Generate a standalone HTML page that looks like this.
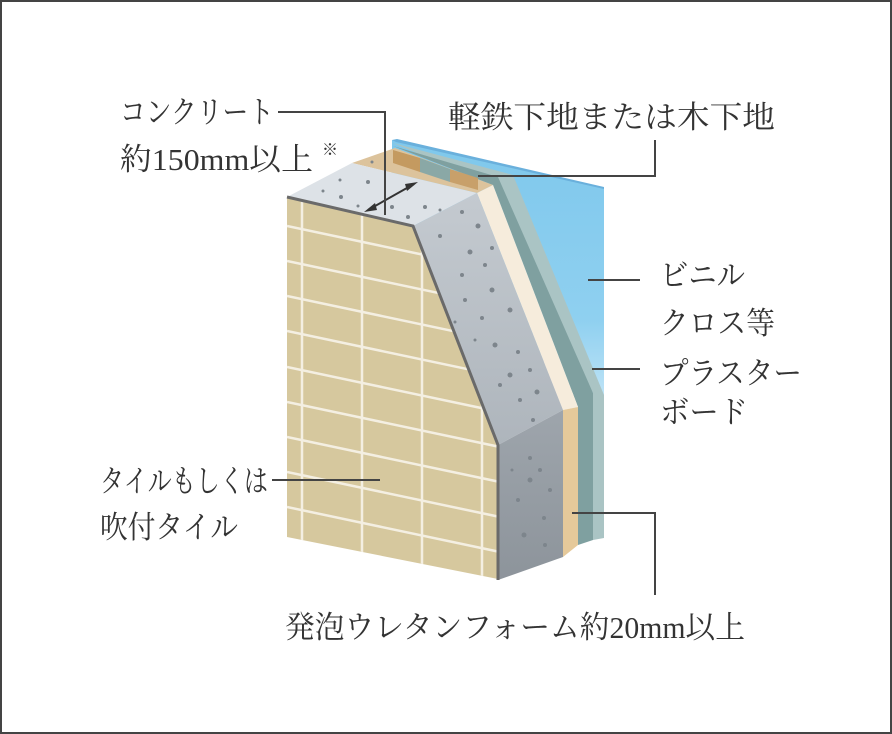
<!DOCTYPE html>
<html><head><meta charset="utf-8"><style>
html,body{margin:0;padding:0;background:#fff}
svg{display:block}
text{font-family:"Liberation Serif","Noto Serif CJK JP","Noto Serif CJK SC",serif;fill:#333;font-size:31px}
</style></head><body>
<svg width="892" height="734" viewBox="0 0 892 734" xmlns="http://www.w3.org/2000/svg">
<defs>
<linearGradient id="blue" x1="0" y1="0" x2="0" y2="1">
<stop offset="0" stop-color="#7fc8ec"/><stop offset="0.45" stop-color="#8fd0f0"/><stop offset="0.75" stop-color="#d8eefa"/><stop offset="1" stop-color="#ffffff"/>
</linearGradient>
<linearGradient id="conc" x1="0" y1="0" x2="0" y2="1">
<stop offset="0" stop-color="#c4cad0"/><stop offset="1" stop-color="#aeb5bc"/>
</linearGradient>
<linearGradient id="conc2" x1="0" y1="0" x2="0" y2="1">
<stop offset="0" stop-color="#9ea5ac"/><stop offset="1" stop-color="#8d949b"/>
</linearGradient>
<clipPath id="tile"><polygon points="287,197 413,226 498,445 498,579 287,537"/></clipPath>
</defs>
<rect x="1" y="1" width="890" height="732" fill="#fff" stroke="#444" stroke-width="2"/>

<polygon points="392,140 604,188 604,540 580,540 580,400 392,200" fill="url(#blue)"/>
<polygon points="392,140 397,139 604,187 604,189 396,142" fill="#6ab0dc"/>
<polygon points="393,143 513,175 604,395 604,538 593,540 593,393 493,185" fill="#aac4c4"/>
<polygon points="393,146 498,177 593,393 593,540 578,545 578,407 493,185" fill="#7fa0a0"/>
<polygon points="352,163 395,148 493,185 477,193" fill="#dcc39c"/>
<polygon points="393,150 420,158 420,172 393,163" fill="#c49a60"/>
<polygon points="450,169 478,178 478,190 450,182" fill="#c8a06a"/>
<polygon points="420,158 450,169 450,182 420,172" fill="#8aa8a6"/>
<polygon points="477,193 493,185 578,407 563,410" fill="#f6ecdc"/>
<polygon points="563,410 578,407 578,545 563,557" fill="#e5c99a"/>
<polygon points="287,197 352,163 477,193 413,226" fill="#dde2e7"/>
<polygon points="413,226 477,193 563,410 498,445" fill="url(#conc)"/>
<polygon points="498,445 563,410 563,557 498,580" fill="url(#conc2)"/>
<g fill="#7d858c">
<circle cx="462" cy="212" r="2"/><circle cx="478" cy="226" r="2.5"/><circle cx="440" cy="236" r="2"/><circle cx="470" cy="252" r="2.5"/><circle cx="492" cy="248" r="2"/><circle cx="485" cy="265" r="2"/><circle cx="462" cy="275" r="2"/><circle cx="492" cy="290" r="2.5"/><circle cx="465" cy="300" r="2"/><circle cx="510" cy="310" r="2.5"/><circle cx="482" cy="318" r="2"/><circle cx="495" cy="345" r="2.5"/><circle cx="518" cy="352" r="2"/><circle cx="510" cy="375" r="2.5"/><circle cx="530" cy="370" r="2"/><circle cx="520" cy="400" r="2"/><circle cx="537" cy="392" r="2.5"/><circle cx="533" cy="420" r="2"/><circle cx="500" cy="385" r="2"/><circle cx="455" cy="322" r="1.5"/><circle cx="475" cy="340" r="1.5"/>
<circle cx="530" cy="458" r="2"/><circle cx="530" cy="480" r="2.5"/><circle cx="540" cy="470" r="2"/><circle cx="518" cy="500" r="2"/><circle cx="544" cy="518" r="2"/><circle cx="524" cy="535" r="2.5"/><circle cx="545" cy="545" r="2"/><circle cx="550" cy="490" r="2"/><circle cx="512" cy="470" r="1.5"/>
<circle cx="340" cy="180" r="1.5"/><circle cx="368" cy="182" r="2"/><circle cx="323" cy="191" r="1.5"/><circle cx="341" cy="197" r="2"/><circle cx="358" cy="206" r="1.5"/><circle cx="392" cy="207" r="2"/><circle cx="425" cy="207" r="2"/><circle cx="408" cy="217" r="2"/><circle cx="440" cy="210" r="1.5"/><circle cx="372" cy="162" r="1.5"/>
</g>
<polygon points="287,197 413,226 498,445 498,579 287,537" fill="#d6c89e"/>
<g clip-path="url(#tile)" stroke="#f4efe2" stroke-width="2.5">
<line x1="287" y1="226" x2="500" y2="271"/><line x1="287" y1="261" x2="500" y2="306"/><line x1="287" y1="296" x2="500" y2="341"/><line x1="287" y1="331" x2="500" y2="376"/><line x1="287" y1="367" x2="500" y2="412"/><line x1="287" y1="402" x2="500" y2="447"/><line x1="287" y1="437" x2="500" y2="482"/><line x1="287" y1="472" x2="500" y2="517"/><line x1="287" y1="507" x2="500" y2="552"/>
<line x1="302" y1="190" x2="302" y2="600"/><line x1="362" y1="190" x2="362" y2="600"/><line x1="422" y1="190" x2="422" y2="600"/><line x1="482" y1="190" x2="482" y2="600"/>
</g>
<polyline points="287,197 413,226 498,445 498,580" fill="none" stroke="#6a6a6a" stroke-width="3"/>
<g stroke="#333" stroke-width="2" fill="#333">
<line x1="368" y1="210" x2="414" y2="184"/>
<polygon points="364,212 375,203 377,210" stroke="none"/>
<polygon points="418,182 407,191 405,184" stroke="none"/>
</g>
<g stroke="#444" stroke-width="2" fill="none">
<polyline points="278,112 385,112 385,215"/>
<polyline points="655,140 655,176 478,176"/>
<line x1="588" y1="280" x2="640" y2="280"/>
<line x1="592" y1="369" x2="640" y2="369"/>
<line x1="272" y1="480" x2="380" y2="480"/>
<polyline points="572,513 655,513 655,595"/>
</g>
<text x="120" y="123" textLength="154" lengthAdjust="spacingAndGlyphs">コンクリート</text>
<text x="120" y="170" textLength="193" lengthAdjust="spacingAndGlyphs">約150mm以上</text>
<text x="322" y="155" style="font-size:16px">※</text>
<text x="448" y="128" textLength="327" lengthAdjust="spacingAndGlyphs">軽鉄下地または木下地</text>
<text x="660" y="286" textLength="85" lengthAdjust="spacingAndGlyphs">ビニル</text>
<text x="660" y="334" textLength="115" lengthAdjust="spacingAndGlyphs">クロス等</text>
<text x="660" y="384" textLength="142" lengthAdjust="spacingAndGlyphs">プラスター</text>
<text x="660" y="423" textLength="88" lengthAdjust="spacingAndGlyphs">ボード</text>
<text x="100" y="492" textLength="168" lengthAdjust="spacingAndGlyphs">タイルもしくは</text>
<text x="100" y="538" textLength="138" lengthAdjust="spacingAndGlyphs">吹付タイル</text>
<text x="285" y="638" textLength="460" lengthAdjust="spacingAndGlyphs">発泡ウレタンフォーム約20mm以上</text>
</svg>
</body></html>
